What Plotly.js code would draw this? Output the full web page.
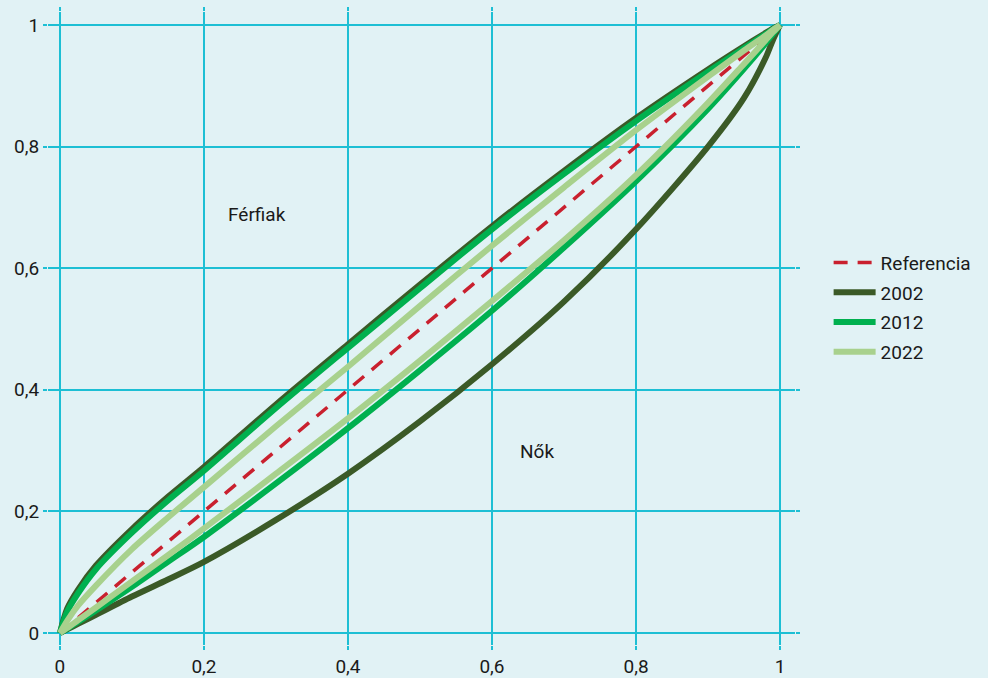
<!DOCTYPE html>
<html>
<head>
<meta charset="utf-8">
<script src="https://cdn.plot.ly/plotly-3.0.1.min.js"></script>
<style>html,body{margin:0;padding:0;background:#e1f2f5;}#chart{width:988px;height:678px;}</style>
</head>
<body>
<div id="chart"></div>
<script>
// Shared x positions (cumulative share)
const xs = [0, 0.01, 0.025, 0.05, 0.1, 0.15, 0.2, 0.3, 0.4, 0.5, 0.6, 0.7, 0.8, 0.9, 0.95, 0.98, 0.99, 1];

// Reference (equality line)
const refX = [0, 1];
const refY = [0, 1];

// Upper curves (Férfiak) and lower curves (Nők) per year
const men2002   = [0, 0.040, 0.071, 0.111, 0.171, 0.224, 0.273, 0.376, 0.475, 0.573, 0.669, 0.760, 0.847, 0.927, 0.965, 0.987, 0.994, 1];
const women2002 = [0, 0.006, 0.015, 0.030, 0.060, 0.088, 0.117, 0.186, 0.262, 0.348, 0.442, 0.545, 0.664, 0.800, 0.880, 0.946, 0.975, 1];
const men2012   = [0, 0.035, 0.065, 0.105, 0.165, 0.218, 0.267, 0.370, 0.469, 0.567, 0.664, 0.755, 0.842, 0.923, 0.962, 0.985, 0.993, 1];
const women2012 = [0, 0.007, 0.018, 0.037, 0.076, 0.117, 0.158, 0.246, 0.337, 0.432, 0.530, 0.634, 0.743, 0.862, 0.928, 0.970, 0.985, 1];
const men2022   = [0, 0.020, 0.045, 0.078, 0.138, 0.190, 0.240, 0.340, 0.438, 0.538, 0.637, 0.733, 0.827, 0.915, 0.958, 0.983, 0.992, 1];
const women2022 = [0, 0.008, 0.021, 0.042, 0.085, 0.128, 0.172, 0.262, 0.353, 0.448, 0.546, 0.646, 0.753, 0.872, 0.936, 0.975, 0.988, 1];

const yearNames = ['2002', '2012', '2022'];
const tickVals = [0, 0.2, 0.4, 0.6, 0.8, 1];
const tickText = ['0', '0,2', '0,4', '0,6', '0,8', '1'];

const labelText = ['Férfiak', 'Nők'];
const labelX = [0.273, 0.662];
const labelY = [0.689, 0.298];

const colors = {ref: '#c9202e', y2002: '#3b5a27', y2012: '#00b04f', y2022: '#a8d18d'};
const bg = '#e1f2f5';
const gridC = '#1dbfd4';
const fontFam = 'Roboto, sans-serif';

const menData = [men2002, men2012, men2022];
const womenData = [women2002, women2012, women2022];
const yearColors = [colors.y2002, colors.y2012, colors.y2022];

const traces = [{
  x: refX, y: refY, type: 'scatter', mode: 'lines', name: 'Referencia',
  legendgroup: 'ref',
  line: {color: colors.ref, width: 3.5, dash: '14px,10px'}
}];
for (let i = 0; i < yearNames.length; i++) {
  traces.push({
    x: xs, y: menData[i], type: 'scatter', mode: 'lines', name: yearNames[i],
    legendgroup: yearNames[i],
    line: {color: yearColors[i], width: 6, shape: 'spline', smoothing: 0.8}
  });
  traces.push({
    x: xs, y: womenData[i], type: 'scatter', mode: 'lines', name: yearNames[i],
    legendgroup: yearNames[i], showlegend: false,
    line: {color: yearColors[i], width: 6, shape: 'spline', smoothing: 0.8}
  });
}

const axisCommon = {
  tickvals: tickVals, ticktext: tickText,
  showgrid: true, gridcolor: gridC, gridwidth: 2,
  zeroline: false, showline: false,
  ticks: 'outside', ticklen: 4, tickwidth: 2, tickcolor: gridC, mirror: 'ticks',
  tickfont: {family: fontFam, size: 19, color: '#1a1a1a'}
};

const layout = {
  width: 988, height: 678,
  paper_bgcolor: bg, plot_bgcolor: bg,
  margin: {l: 48, r: 191, t: 12, b: 33},
  xaxis: Object.assign({}, axisCommon, {range: [-0.0166, 1.0208]}),
  yaxis: Object.assign({}, axisCommon, {range: [-0.0197, 1.0214]}),
  showlegend: true,
  legend: {
    x: 1.045, y: 0.634, xanchor: 'left', yanchor: 'top',
    bgcolor: 'rgba(0,0,0,0)',
    font: {family: fontFam, size: 19, color: '#1a1a1a'},
    tracegroupgap: 2, itemwidth: 42
  },
  annotations: labelText.map((t, i) => ({
    x: labelX[i], y: labelY[i], xref: 'x', yref: 'y', text: t, showarrow: false,
    font: {family: fontFam, size: 19, color: '#1a1a1a'}
  }))
};

Plotly.newPlot('chart', traces, layout, {displayModeBar: false, staticPlot: true});
</script>
</body>
</html>
